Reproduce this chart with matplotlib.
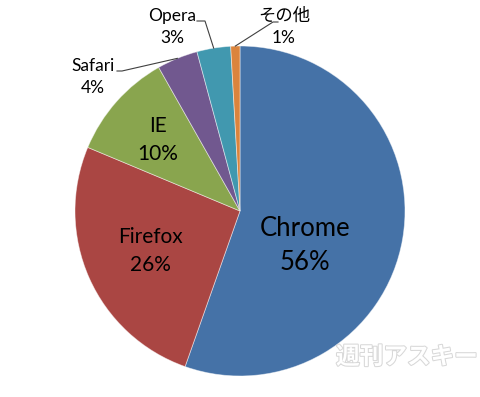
import numpy as np
import matplotlib
matplotlib.use("Agg")
import matplotlib.pyplot as plt
import matplotlib.patheffects as pe

plt.rcParams['font.family'] = ['Lato', 'Noto Sans CJK JP', 'DejaVu Sans']

browsers = ["Chrome", "Firefox", "IE", "Safari", "Opera", "その他"]
shares = [55.4, 25.9, 10.5, 4.0, 3.3, 0.9]
pct_labels = ["56%", "26%", "10%", "4%", "3%", "1%"]
colors = ["#4572A7", "#AA4643", "#89A54E", "#71588F", "#4198AF", "#DB843D"]

W, H = 480, 397
fig = plt.figure(figsize=(W / 100, H / 100), dpi=100)
cx, cy, r = 240, 211, 165
ax = fig.add_axes([(cx - r) / W, (H - cy - r) / H, 2 * r / W, 2 * r / H])

wedges, _ = ax.pie(shares, colors=colors, startangle=90, counterclock=False,
                   radius=1, wedgeprops=dict(edgecolor=(1, 1, 1, 0.5), linewidth=0.6))
ax.set_xlim(-1, 1)
ax.set_ylim(-1, 1)
ax.set_aspect('equal')
ax.axis('off')

def d(px, py):
    return (px - cx) / r, (cy - py) / r

# inside labels
inside = {0: ((305, 245), 18.5, 1.45), 1: ((150, 251), 15, 1.5), 2: ((158, 140), 15, 1.5)}
for i, ((px, py), fs, ls) in inside.items():
    x, y = d(px, py)
    ax.text(x, y, f"{browsers[i]}\n{pct_labels[i]}", ha='center', va='center',
            fontsize=fs, linespacing=ls, color='black')

# outside labels with leader lines
outside = {3: ((93, 77), (117, 71), (122, 71)),
           4: ((172, 27), (197, 21), (205, 21)),
           5: ((284, 27), (278, 22), (273, 22))}
theta_start = 90
cum = np.cumsum([0] + shares)
for i, ((px, py), (lx0, ly0), (lx1, ly1)) in outside.items():
    x, y = d(px, py)
    ax.text(x, y, f"{browsers[i]}\n{pct_labels[i]}", ha='center', va='center',
            fontsize=12.5, linespacing=1.45, color='black')
    mid = theta_start - 360 * (cum[i] + shares[i] / 2) / 100
    ex, ey = np.cos(np.radians(mid)), np.sin(np.radians(mid))
    p0, p1 = d(lx0, ly0), d(lx1, ly1)
    ax.plot([p0[0], p1[0], ex], [p0[1], p1[1], ey], color='#404040', lw=0.8,
            clip_on=False, solid_joinstyle='miter')

# watermark
fig.text(407 / W, 1 - 357 / H, "週刊アスキー", ha='center', va='center',
         fontsize=17, fontweight='bold', family=['Noto Sans CJK JP'], color='white',
         path_effects=[pe.withStroke(linewidth=1.5, foreground='#d8d8d8')])

fig.savefig("out.png", dpi=100, facecolor='white')
